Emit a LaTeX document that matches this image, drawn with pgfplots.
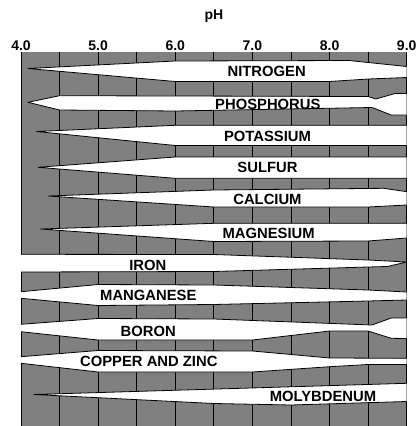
\documentclass[border=0pt]{standalone}
\usepackage{fontspec}
\setmainfont{Liberation Sans}
\usepackage{pgfplots}
\pgfplotsset{compat=1.18}
\definecolor{bg}{RGB}{128,128,128}
\begin{document}
\begin{tikzpicture}[
  band/.style={fill=white, draw=black, line width=0.8pt, line join=round},
  bandfill/.style={fill=white, draw=none},
  edge/.style={draw=black, line width=0.8pt, line join=round},
  lbl/.style={font=\bfseries\fontsize{14.8}{15}\selectfont, inner sep=0pt},
]
\useasboundingbox (-21pt,0pt) rectangle (395pt,426pt);
\begin{axis}[
  at={(0pt,0pt)}, anchor=south west,
  scale only axis, width=385.7pt, height=374pt,
  xmin=4, xmax=9, ymin=52, ymax=426, y dir=reverse,
  axis line style={draw=none},
  axis background/.style={fill=bg},
  xtick={4,5,6,7,8,9},
  minor xtick={4.5,5.5,6.5,7.5,8.5},
  xticklabels={\textbf{4.0},\textbf{5.0},\textbf{6.0},\textbf{7.0},\textbf{8.0},\textbf{9.0}},
  xticklabel pos=upper,
  ytick=\empty,
  major tick length=0pt, minor tick length=0pt,
  xmajorgrids, xminorgrids,
  major grid style={black, line width=0.7pt},
  minor grid style={black, line width=0.7pt},
  /pgf/number format/assume math mode=true,
  xticklabel style={font=\bfseries\fontsize{14}{14}\selectfont, anchor=base, yshift=2pt, inner sep=0pt},
  clip=false,
]
% NITROGEN
\addplot[band] coordinates {(9.0,66.5) (8.25,60.5) (6.0,61) (4.09,68.5) (6.0,81.5) (8.0,81.5) (8.5,79) (9.0,77.5)};
% PHOSPHORUS
\addplot[band] coordinates {(9.0,93.5) (8.85,93.5) (8.6,99) (8.5,96.5) (4.5,95.7) (4.09,102.3) (4.5,110) (6.0,111) (8.55,107.5) (8.8,115) (9.0,115)};
% POTASSIUM
\addplot[band] coordinates {(9.0,125.3) (6.0,125.3) (4.2,131.5) (6.0,145.5) (9.0,145.5)};
% SULFUR
\addplot[band] coordinates {(9.0,157) (6.0,157) (4.22,167.3) (6.0,178.3) (9.0,178.3)};
% CALCIUM
\addplot[band] coordinates {(9.0,191.7) (8.7,188.3) (6.5,190) (4.35,196) (6.5,207) (8.5,207) (9.0,205)};
% MAGNESIUM
\addplot[band] coordinates {(9.0,223.3) (6.5,223.3) (4.25,229) (6.5,241.5) (8.5,241) (9.0,238)};
% IRON
\addplot[band] coordinates {(4.0,254.3) (6.5,254.5) (8.5,260) (9.0,262) (8.75,266.5) (8.5,267) (6.5,271.5) (4.0,272)};
% MANGANESE
\addplot[bandfill] coordinates {(9.0,292) (8.5,290) (6.5,285) (5.0,284.5) (4.0,291.7) (4.0,298.3) (5.0,305.5) (6.5,304.5) (8.5,301) (9.0,300)};
\addplot[edge] coordinates {(9.0,292) (8.5,290) (6.5,285) (5.0,284.5) (4.0,291.7)};
\addplot[edge] coordinates {(4.0,298.3) (5.0,305.5) (6.5,304.5) (8.5,301) (9.0,300)};
% BORON
\addplot[bandfill] coordinates {(9.0,318) (8.8,318) (8.55,325) (6.5,319) (5.0,318.5) (4.0,324.3) (4.0,331.7) (5.0,340) (7.0,340) (8.0,331) (8.5,331) (8.8,338.3) (9.0,338.5)};
\addplot[edge] coordinates {(9.0,318) (8.8,318) (8.55,325) (6.5,319) (5.0,318.5) (4.0,324.3)};
\addplot[edge] coordinates {(4.0,331.7) (5.0,340) (7.0,340) (8.0,331) (8.5,331) (8.8,338.3) (9.0,338.5)};
% COPPER AND ZINC
\addplot[bandfill] coordinates {(9.0,358.3) (8.0,358) (7.0,351) (5.0,350.5) (4.0,356.7) (4.0,363.3) (5.0,372) (7.0,372) (8.0,366.7) (8.5,364.5) (9.0,364.5)};
\addplot[edge] coordinates {(9.0,358.3) (8.0,358) (7.0,351) (5.0,350.5) (4.0,356.7)};
\addplot[edge] coordinates {(4.0,363.3) (5.0,372) (7.0,372) (8.0,366.7) (8.5,364.5) (9.0,364.5)};
% MOLYBDENUM
\addplot[band] coordinates {(9.0,383.3) (4.17,394.5) (6.5,403.5) (7.5,405) (9.0,401.5)};

\node[lbl] at (axis cs:7.185,71.7) {NITROGEN};
\node[lbl] at (axis cs:7.20,104.3) {PHOSPHORUS};
\node[lbl] at (axis cs:7.195,136.7) {POTASSIUM};
\node[lbl] at (axis cs:7.195,167.7) {SULFUR};
\node[lbl] at (axis cs:7.195,199) {CALCIUM};
\node[lbl] at (axis cs:7.21,233.3) {MAGNESIUM};
\node[lbl] at (axis cs:5.644,265) {IRON};
\node[lbl] at (axis cs:5.65,295) {MANGANESE};
\node[lbl] at (axis cs:5.65,331) {BORON};
\node[lbl] at (axis cs:5.657,361.7) {COPPER AND ZINC};
\node[lbl] at (axis cs:7.915,396) {MOLYBDENUM};
\end{axis}
\node[font=\bfseries\fontsize{14}{14}\selectfont, anchor=base, inner sep=0pt] at (192.85pt,406pt) {pH};
\end{tikzpicture}
\end{document}
